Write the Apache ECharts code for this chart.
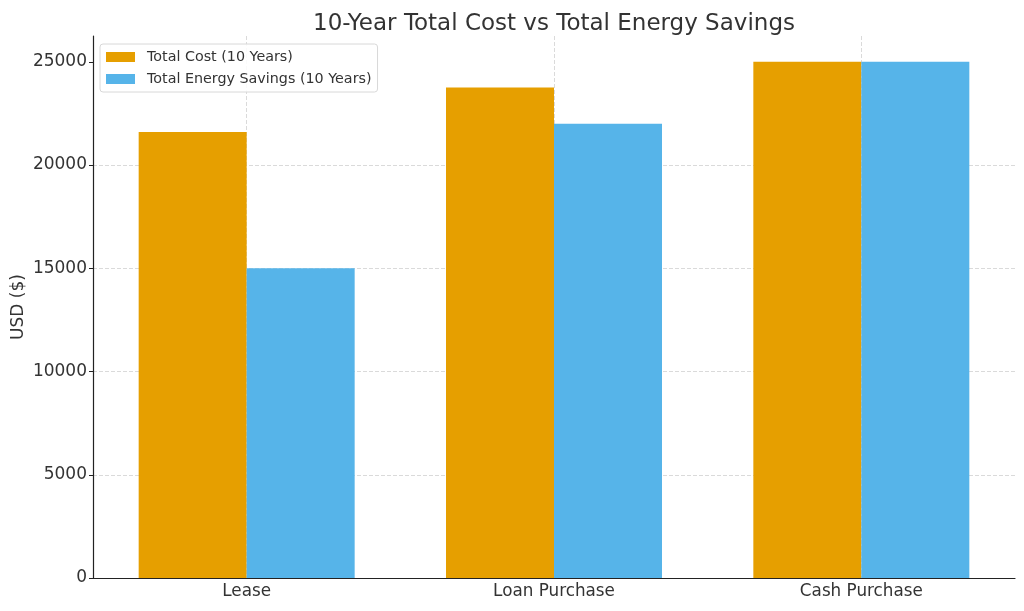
<!DOCTYPE html>
<html><head><meta charset="utf-8">
<script src="https://cdn.jsdelivr.net/npm/echarts@6/dist/echarts.min.js"></script>
<style>html,body{margin:0;padding:0;background:#fff}#c{width:1024px;height:611px}</style>
</head><body><div id="c"></div>
<script>
const categories = ['Lease', 'Loan Purchase', 'Cash Purchase'];
const totalCost = [21600, 23750, 25000];
const totalSavings = [15000, 22000, 25000];
const yTicks = [0, 5000, 10000, 15000, 20000, 25000];
const seriesNames = ['Total Cost (10 Years)', 'Total Energy Savings (10 Years)'];

const font = 'DejaVu Sans';
const chart = echarts.init(document.getElementById('c'));
chart.setOption({
  animation: false,
  textStyle: { fontFamily: font },
  title: {
    text: '10-Year Total Cost vs Total Energy Savings',
    left: 549, top: 8, textAlign: 'center',
    textStyle: { fontFamily: font, fontSize: 23, fontWeight: 'normal', color: '#333' }
  },
  legend: {
    orient: 'vertical', left: 100, top: 44,
    padding: [5, 6, 5, 6], itemGap: 6,
    itemWidth: 29, itemHeight: 10, icon: 'rect',
    borderColor: '#d8d8d8', borderWidth: 1, borderRadius: 3,
    backgroundColor: 'rgba(255,255,255,0.85)',
    textStyle: { fontFamily: font, fontSize: 14.3, lineHeight: 16, color: '#333', padding: [0, 0, 0, 7] },
    data: seriesNames
  },
  grid: { left: 93, right: 9, top: 36, bottom: 33, containLabel: false, outerBoundsMode: 'none' },
  xAxis: {
    type: 'category', data: categories,
    axisLine: { lineStyle: { color: '#222', width: 1.2 } },
    axisTick: { alignWithLabel: true, length: 4, lineStyle: { color: '#222' } },
    axisLabel: { fontFamily: font, fontSize: 16.8, color: '#333', margin: 5 },
    splitLine: { show: true, alignWithLabel: true, lineStyle: { type: [4, 2], color: '#d0d0d0', width: 0.8 } }
  },
  yAxis: {
    type: 'value', min: 0, max: 26250, interval: 5000,
    name: 'USD ($)', nameLocation: 'middle', nameGap: 66, nameRotate: 90, nameMoveOverlap: false,
    nameTextStyle: { fontFamily: font, fontSize: 17, color: '#333' },
    axisLine: { show: true, lineStyle: { color: '#222', width: 1.2 } },
    axisTick: { show: true, length: 4, customValues: yTicks, lineStyle: { color: '#222' } },
    axisLabel: { fontFamily: font, fontSize: 17, color: '#333', margin: 6, customValues: yTicks,
      formatter: v => String(v) },
    splitLine: { show: true, showMaxLine: false, lineStyle: { type: [4, 2], color: '#d0d0d0', width: 0.8 } }
  },
  series: [
    { name: seriesNames[0], type: 'bar', data: totalCost, barWidth: 108, barGap: '0%',
      itemStyle: { color: '#E69F00' } },
    { name: seriesNames[1], type: 'bar', data: totalSavings, barWidth: 108, barGap: '0%',
      itemStyle: { color: '#56B4E9' } }
  ]
});
</script></body></html>
